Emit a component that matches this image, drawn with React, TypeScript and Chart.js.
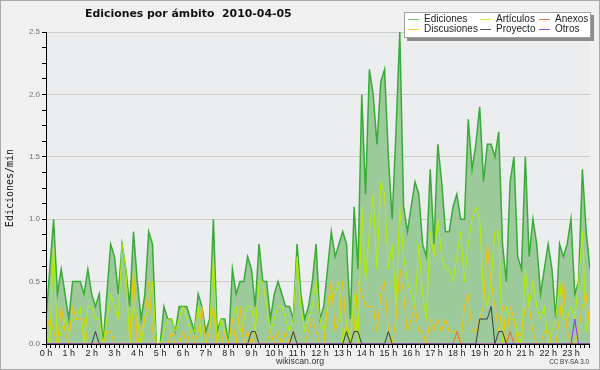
import React, { useEffect, useRef } from 'react';
import { Chart, registerables } from 'chart.js';

Chart.register(...registerables);

// 10-minute buckets, 00:00 .. 23:50 (144 values, edits per minute)
const ediciones = [
  0.2, 0.6, 1.0, 0.4, 0.6, 0.4, 0.2, 0.5, 0.5, 0.5, 0.4, 0.6,
  0.4, 0.3, 0.4, 0.0, 0.4, 0.8, 0.7, 0.4, 0.8, 0.6, 0.3, 0.9,
  0.5, 0.2, 0.4, 0.9, 0.8, 0.0, 0.0, 0.3, 0.2, 0.2, 0.1, 0.3,
  0.3, 0.3, 0.2, 0.1, 0.4, 0.3, 0.1, 0.2, 1.0, 0.1, 0.2, 0.2,
  0.0, 0.6, 0.4, 0.5, 0.5, 0.7, 0.6, 0.3, 0.8, 0.5, 0.5, 0.2,
  0.4, 0.5, 0.4, 0.3, 0.3, 0.2, 0.8, 0.4, 0.2, 0.3, 0.5, 0.8,
  0.2, 0.3, 0.6, 0.9, 0.7, 0.8, 0.9, 0.8, 0.2, 1.1, 0.6, 2.0,
  1.2, 2.2, 2.0, 1.6, 2.1, 2.2, 1.5, 1.0, 1.7, 2.5, 1.1, 0.9,
  1.1, 1.3, 1.2, 0.8, 0.7, 1.4, 0.8, 1.6, 1.3, 0.9, 0.9, 1.1,
  1.2, 1.0, 1.0, 1.8, 1.4, 1.6, 1.9, 1.3, 1.6, 1.6, 1.5, 1.7,
  0.8, 0.5, 1.3, 1.5, 0.7, 0.6, 1.5, 0.7, 1.0, 0.8, 0.4, 0.6,
  0.8, 0.6, 0.2, 0.8, 0.7, 0.8, 1.0, 0.4, 0.5, 1.4, 0.9, 0.6,
];

const articulos = [
  0.1, 0.0, 0.8, 0.0, 0.1, 0.2, 0.1, 0.2, 0.2, 0.3, 0.0, 0.3,
  0.3, 0.2, 0.2, 0.0, 0.2, 0.4, 0.3, 0.2, 0.8, 0.6, 0.0, 0.3,
  0.2, 0.0, 0.2, 0.3, 0.5, 0.0, 0.0, 0.1, 0.2, 0.2, 0.1, 0.2,
  0.3, 0.2, 0.1, 0.1, 0.3, 0.0, 0.0, 0.1, 0.7, 0.0, 0.2, 0.1,
  0.0, 0.2, 0.3, 0.1, 0.2, 0.3, 0.3, 0.1, 0.5, 0.5, 0.3, 0.1,
  0.2, 0.3, 0.3, 0.2, 0.1, 0.2, 0.7, 0.3, 0.1, 0.2, 0.3, 0.5,
  0.2, 0.1, 0.3, 0.4, 0.4, 0.5, 0.0, 0.2, 0.0, 0.4, 0.0, 1.1,
  0.5, 0.9, 1.2, 0.6, 1.3, 1.2, 0.6, 0.8, 0.3, 1.1, 0.7, 0.5,
  0.4, 0.3, 0.8, 0.4, 0.2, 0.9, 0.7, 1.0, 0.7, 0.6, 0.6, 0.5,
  0.7, 0.9, 0.5, 0.8, 1.0, 1.1, 1.0, 0.4, 0.3, 0.5, 0.9, 0.9,
  0.0, 0.3, 0.2, 0.2, 0.1, 0.0, 0.6, 0.3, 0.5, 0.3, 0.2, 0.3,
  0.0, 0.1, 0.2, 0.5, 0.2, 0.2, 0.3, 0.2, 0.5, 0.9, 0.1, 0.3,
];

const discusiones = [
  0.1, 0.2, 0.1, 0.0, 0.3, 0.1, 0.0, 0.3, 0.2, 0.2, 0.2, 0.0,
  0.0, 0.0, 0.0, 0.0, 0.1, 0.1, 0.0, 0.0, 0.0, 0.0, 0.0, 0.6,
  0.0, 0.1, 0.2, 0.5, 0.1, 0.0, 0.0, 0.0, 0.0, 0.1, 0.0, 0.0,
  0.1, 0.0, 0.1, 0.0, 0.1, 0.3, 0.0, 0.1, 0.3, 0.0, 0.0, 0.1,
  0.0, 0.2, 0.0, 0.3, 0.0, 0.1, 0.0, 0.1, 0.0, 0.0, 0.0, 0.1,
  0.0, 0.1, 0.0, 0.1, 0.0, 0.1, 0.0, 0.0, 0.0, 0.1, 0.2, 0.1,
  0.0, 0.0, 0.3, 0.5, 0.1, 0.2, 0.5, 0.1, 0.0, 0.1, 0.5, 0.4,
  0.3, 0.3, 0.3, 0.1, 0.4, 0.5, 0.1, 0.0, 0.2, 0.6, 0.4, 0.1,
  0.2, 0.3, 0.1, 0.1, 0.0, 0.2, 0.1, 0.2, 0.1, 0.2, 0.1, 0.1,
  0.1, 0.0, 0.3, 0.4, 0.1, 0.1, 0.2, 0.3, 0.8, 0.5, 0.3, 0.1,
  0.3, 0.0, 0.3, 0.2, 0.0, 0.1, 0.3, 0.3, 0.1, 0.0, 0.0, 0.1,
  0.1, 0.0, 0.0, 0.2, 0.5, 0.1, 0.0, 0.0, 0.1, 0.3, 0.4, 0.1,
];

const anexos = [
  0, 0, 0, 0, 0, 0, 0, 0, 0, 0, 0, 0,
  0, 0, 0, 0, 0, 0, 0, 0, 0, 0, 0, 0,
  0, 0, 0, 0, 0, 0, 0, 0, 0, 0, 0, 0,
  0, 0, 0, 0, 0, 0, 0, 0, 0, 0, 0, 0,
  0, 0, 0, 0, 0, 0, 0, 0, 0, 0, 0, 0,
  0, 0, 0, 0, 0, 0, 0, 0, 0, 0, 0, 0,
  0, 0, 0, 0, 0, 0, 0, 0, 0, 0, 0, 0,
  0, 0, 0, 0, 0, 0, 0, 0, 0, 0, 0, 0,
  0, 0, 0, 0, 0, 0, 0, 0, 0, 0, 0, 0,
  0.1, 0, 0, 0, 0, 0, 0, 0, 0, 0, 0, 0,
  0, 0, 0.1, 0, 0, 0, 0, 0, 0, 0, 0, 0,
  0, 0, 0, 0, 0, 0, 0, 0, 0, 0, 0, 0,
];

const proyecto = [
  0, 0, 0, 0, 0, 0, 0, 0, 0, 0, 0, 0,
  0, 0.1, 0, 0, 0, 0, 0, 0, 0, 0, 0, 0,
  0, 0, 0, 0, 0, 0, 0, 0, 0, 0, 0, 0,
  0, 0, 0, 0, 0, 0, 0, 0, 0, 0, 0, 0,
  0, 0, 0, 0, 0, 0, 0.1, 0.1, 0, 0, 0, 0,
  0, 0, 0, 0, 0, 0.1, 0, 0, 0, 0, 0, 0,
  0, 0, 0, 0, 0, 0, 0, 0.1, 0, 0.1, 0.1, 0,
  0, 0, 0, 0, 0, 0, 0.1, 0, 0, 0, 0, 0,
  0, 0, 0, 0, 0, 0, 0, 0, 0, 0, 0, 0,
  0, 0, 0, 0, 0, 0, 0.2, 0.2, 0.2, 0.3, 0, 0.1,
  0.1, 0, 0, 0, 0, 0, 0, 0, 0, 0, 0, 0,
  0, 0, 0, 0, 0, 0, 0, 0, 0, 0, 0, 0,
];

const otros = [
  0, 0, 0, 0, 0, 0, 0, 0, 0, 0, 0, 0,
  0, 0, 0, 0, 0, 0, 0, 0, 0, 0, 0, 0,
  0, 0, 0, 0, 0, 0, 0, 0, 0, 0, 0, 0,
  0, 0, 0, 0, 0, 0, 0, 0, 0, 0, 0, 0,
  0, 0, 0, 0, 0, 0, 0, 0, 0, 0, 0, 0,
  0, 0, 0, 0, 0, 0, 0, 0, 0, 0, 0, 0,
  0, 0, 0, 0, 0, 0, 0, 0, 0, 0, 0, 0,
  0, 0, 0, 0, 0, 0, 0, 0, 0, 0, 0, 0,
  0, 0, 0, 0, 0, 0, 0, 0, 0, 0, 0, 0,
  0, 0, 0, 0, 0, 0, 0, 0, 0, 0, 0, 0,
  0, 0, 0, 0, 0, 0, 0, 0, 0, 0, 0, 0,
  0, 0, 0, 0, 0, 0, 0, 0.2, 0, 0, 0, 0,
];

const hourLabels = [
  '0 h', '1 h', '2 h', '3 h', '4 h', '5 h', '6 h', '7 h', '8 h', '9 h', '10 h', '11 h',
  '12 h', '13 h', '14 h', '15 h', '16 h', '17 h', '18 h', '19 h', '20 h', '21 h', '22 h', '23 h',
];

const yLabels = ['0.0', '0.5', '1.0', '1.5', '2.0', '2.5'];

const TITLE = 'Ediciones por ámbito  2010-04-05';
const Y_TITLE = 'Ediciones/min';
const FOOTER = 'wikiscan.org';
const LICENSE = 'CC BY-SA 3.0';

const BUCKET_HOURS = 1 / 6; // 10-minute buckets
const X_TICK_STEP = 0.2; // minor x tick every 12 minutes
const Y_TICK_STEP = 0.125;

const COLORS: Record<string, string> = {
  Ediciones: '#39ab37',
  Artículos: '#b4f000',
  Anexos: '#f0682a',
  Discusiones: '#f5c300',
  Proyecto: '#3c3c3c',
  Otros: '#8a35ee',
};
const LEGEND_COLORS: Record<string, string> = {
  Ediciones: '#6fcb6c',
  Artículos: '#c6f03c',
  Anexos: '#f07a3c',
  Discusiones: '#f7cf3a',
  Proyecto: '#555555',
  Otros: '#9a4cf2',
};

const toPoints = (arr: number[]) => arr.map((v, i) => ({ x: i * BUCKET_HOURS, y: v }));

const isNear = (v: number, step: number) => Math.abs(v / step - Math.round(v / step)) < 1e-6;

function fitFont(ctx: CanvasRenderingContext2D, text: string, weight: string, family: string, targetW: number) {
  ctx.font = `${weight} 20px ${family}`;
  const w = ctx.measureText(text).width;
  const size = (20 * targetW) / w;
  ctx.font = `${weight} ${size}px ${family}`;
}

// legend layout: row 1 = Ediciones, Artículos, Anexos; row 2 = Discusiones, Proyecto, Otros
const legendOrder = ['Ediciones', 'Artículos', 'Anexos', 'Discusiones', 'Proyecto', 'Otros'];

const decorPlugin = {
  id: 'decor',
  beforeDraw(chart: any) {
    const { ctx, width, height, chartArea } = chart;
    ctx.save();
    ctx.fillStyle = '#f0f0f0';
    ctx.fillRect(0, 0, width, height);
    ctx.strokeStyle = '#a9a9a9';
    ctx.lineWidth = 1;
    ctx.strokeRect(0.5, 0.5, width - 1, height - 1);
    ctx.fillStyle = '#ecedef';
    ctx.fillRect(chartArea.left, chartArea.top, chartArea.right - chartArea.left, chartArea.bottom - chartArea.top);
    ctx.restore();
  },
  afterDatasetsDraw(chart: any) {
    const { ctx, chartArea } = chart;
    ctx.save();
    ctx.strokeStyle = '#000';
    ctx.lineWidth = 1;
    ctx.beginPath();
    ctx.moveTo(chartArea.left + 0.5, chartArea.top);
    ctx.lineTo(chartArea.left + 0.5, chartArea.bottom + 0.5);
    ctx.lineTo(chartArea.right, chartArea.bottom + 0.5);
    ctx.stroke();
    ctx.restore();
  },
  afterDraw(chart: any) {
    const { ctx } = chart;
    ctx.save();
    // title
    ctx.fillStyle = '#111';
    ctx.textBaseline = 'middle';
    ctx.textAlign = 'left';
    fitFont(ctx, TITLE, 'bold', '"DejaVu Sans", sans-serif', 207);
    ctx.fillText(TITLE, 85, 14);

    // y title
    ctx.save();
    ctx.translate(10, 188);
    ctx.rotate(-Math.PI / 2);
    ctx.textAlign = 'center';
    ctx.font = '10px "DejaVu Sans Mono", monospace';
    ctx.fillStyle = '#111';
    ctx.fillText(Y_TITLE, 0, 0);
    ctx.restore();

    // footer
    ctx.fillStyle = '#333';
    ctx.textAlign = 'center';
    fitFont(ctx, FOOTER, 'normal', '"Liberation Sans", Arial, sans-serif', 48);
    ctx.fillText(FOOTER, 300, 362);
    ctx.textAlign = 'right';
    fitFont(ctx, LICENSE, 'normal', '"Liberation Sans", Arial, sans-serif', 40);
    ctx.fillText(LICENSE, 589, 362.5);

    // legend box with shadow
    const bx = 404, by = 12, bw = 187, bh = 26;
    ctx.fillStyle = '#8c8c8c';
    ctx.fillRect(bx + 3, by + 3, bw, bh);
    ctx.fillStyle = '#ffffff';
    ctx.fillRect(bx, by, bw, bh);
    ctx.strokeStyle = '#a0a0a0';
    ctx.lineWidth = 1;
    ctx.strokeRect(bx + 0.5, by + 0.5, bw - 1, bh - 1);

    const cols = [408, 480, 539];
    const rows = [19, 29];
    ctx.font = '10px "Liberation Sans", Arial, sans-serif';
    ctx.textAlign = 'left';
    legendOrder.forEach((name, k) => {
      const cx = cols[k % 3];
      const cy = rows[Math.floor(k / 3)];
      ctx.fillStyle = LEGEND_COLORS[name];
      ctx.fillRect(cx, cy, 11, 1);
      ctx.fillStyle = '#222';
      ctx.fillText(name, cx + 16, cy);
    });
    ctx.restore();
  },
};

export default function App() {
  const canvasRef = useRef<HTMLCanvasElement | null>(null);

  useEffect(() => {
    const canvas = canvasRef.current;
    if (!canvas) return;
    const lineBase = { pointRadius: 0, pointHoverRadius: 0, tension: 0, fill: false, borderWidth: 1 };
    const chart = new Chart(canvas, {
      type: 'line',
      data: {
        datasets: [
          {
            ...lineBase,
            label: 'Ediciones',
            data: toPoints(ediciones),
            borderColor: COLORS['Ediciones'],
            backgroundColor: '#9dca9a',
            fill: 'origin',
            borderWidth: 1.5,
            order: 6,
          },
          { ...lineBase, label: 'Discusiones', data: toPoints(discusiones), borderColor: COLORS['Discusiones'], order: 4 },
          { ...lineBase, label: 'Artículos', data: toPoints(articulos), borderColor: COLORS['Artículos'], order: 5 },
          { ...lineBase, label: 'Anexos', data: toPoints(anexos), borderColor: COLORS['Anexos'], order: 3 },
          { ...lineBase, label: 'Proyecto', data: toPoints(proyecto), borderColor: COLORS['Proyecto'], order: 2 },
          { ...lineBase, label: 'Otros', data: toPoints(otros), borderColor: COLORS['Otros'], order: 1 },
        ],
      },
      options: {
        responsive: false,
        devicePixelRatio: 1,
        animation: false,
        events: [],
        layout: { padding: { top: 32, right: 10, left: 0, bottom: 0 } },
        plugins: {
          legend: { display: false },
          title: { display: false },
          tooltip: { enabled: false },
        },
        scales: {
          x: {
            type: 'linear',
            min: 0,
            max: (ediciones.length - 1) * BUCKET_HOURS,
            afterBuildTicks: (scale: any) => {
              const ticks = [];
              for (let k = 0; k * X_TICK_STEP <= scale.max + 1e-9; k++) ticks.push({ value: k * X_TICK_STEP });
              scale.ticks = ticks;
            },
            afterFit: (scale: any) => {
              scale.height = 26;
            },
            border: { display: false },
            grid: { drawOnChartArea: false, drawTicks: true, tickLength: 4, tickColor: '#000', color: '#000' },
            ticks: {
              autoSkip: false,
              maxRotation: 0,
              minRotation: 0,
              padding: 0,
              color: '#222',
              font: { family: '"Liberation Sans", Arial, sans-serif', size: 9 },
              callback: (v: any) => (isNear(Number(v), 1) ? hourLabels[Math.round(Number(v))] || '' : ''),
            },
          },
          y: {
            type: 'linear',
            min: 0,
            max: 2.5,
            afterBuildTicks: (scale: any) => {
              const ticks = [];
              for (let k = 0; k * Y_TICK_STEP <= 2.5 + 1e-9; k++) ticks.push({ value: k * Y_TICK_STEP });
              scale.ticks = ticks;
            },
            afterFit: (scale: any) => {
              scale.width = 46;
            },
            border: { display: false },
            grid: {
              drawTicks: true,
              tickLength: 4,
              tickColor: '#000',
              color: (c: any) => (c.tick && isNear(c.tick.value, 0.5) ? '#cdcdcd' : 'rgba(0,0,0,0)'),
            },
            ticks: {
              autoSkip: false,
              padding: 2,
              color: '#707070',
              font: { family: '"Liberation Sans", Arial, sans-serif', size: 8 },
              callback: (v: any) => (isNear(Number(v), 0.5) ? yLabels[Math.round(Number(v) / 0.5)] : ''),
            },
          },
        },
      } as any,
      plugins: [decorPlugin],
    });
    return () => chart.destroy();
  }, []);

  return (
    <div style={{ position: 'fixed', left: 0, top: 0, width: 600, height: 370 }}>
      <canvas ref={canvasRef} width={600} height={370} style={{ width: 600, height: 370, display: 'block' }} />
    </div>
  );
}
